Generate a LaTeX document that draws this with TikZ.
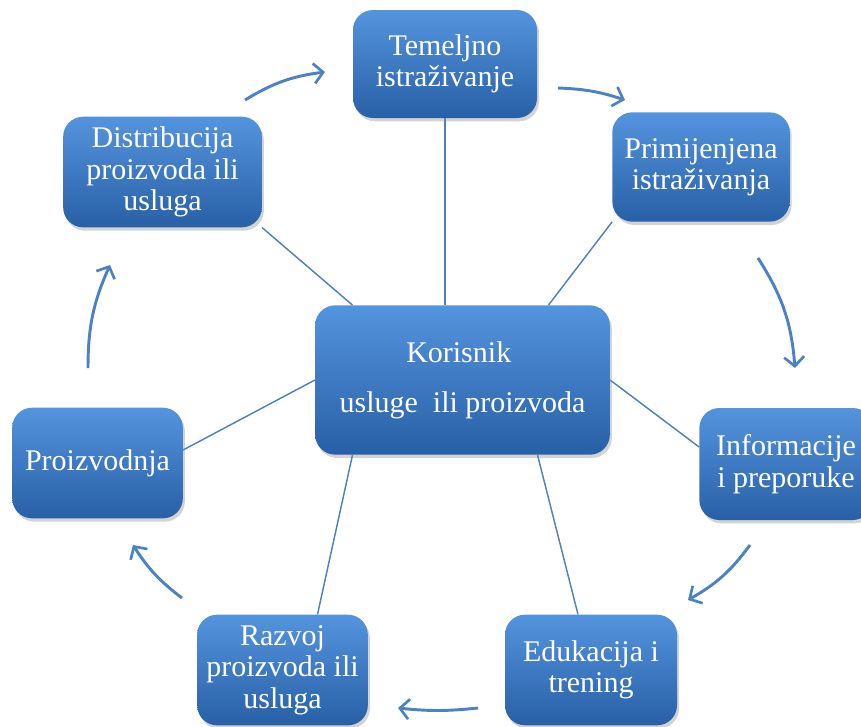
\documentclass[tikz,border=0pt]{standalone}
\usepackage{fontspec}
\setmainfont{Liberation Serif}
\usetikzlibrary{shadows,backgrounds,calc,arrows.meta}

\tikzset{
  stage/.style={draw=none,rounded corners=15pt,
    top color={rgb,255:red,84;green,148;blue,222},
    bottom color={rgb,255:red,40;green,96;blue,166},
    drop shadow={shadow xshift=1.5pt,shadow yshift=-2.5pt,opacity=0.35},
    text=white,align=center,inner sep=2pt,
    font=\fontsize{22.5}{23.5}\selectfont},
  spoke/.style={draw={rgb,255:red,79;green,129;blue,189},line width=1.1pt},
  ring/.style={draw={rgb,255:red,74;green,130;blue,196},line width=2.2pt,
    -{Straight Barb[length=7pt,width=15pt,line width=2pt]}}
}

\begin{document}
\begin{tikzpicture}[x=0.75pt,y=0.75pt,yscale=-1,xscale=1]
\clip (0,0) rectangle (861,726);
\useasboundingbox (0,0) rectangle (861,726);

% Boxes
\node [stage,minimum width=221pt,minimum height=112pt] (hub) at (462.5,380) {Korisnik~~\\[14pt]usluge~~ili proizvoda};
\node [stage,minimum width=138pt,minimum height=81pt] (tem) at (445,64) {Temeljno\\istraživanje};
\node [stage,minimum width=133pt,minimum height=82pt] (pri) at (701,167) {Primijenjena\\istraživanja};
\node [stage,minimum width=130pt,minimum height=84pt] (inf) at (786,464) {Informacije\\i preporuke};
\node [stage,minimum width=129pt,minimum height=83pt] (edu) at (591,670) {Edukacija i\\trening};
\node [stage,minimum width=128pt,minimum height=83pt] (raz) at (282.5,670) {Razvoj\\proizvoda ili\\usluga};
\node [stage,minimum width=128pt,minimum height=83pt] (pro) at (97.5,463) {Proizvodnja};
\node [stage,minimum width=149pt,minimum height=83pt] (dis) at (162.5,172) {Distribucija\\proizvoda ili\\usluga};

% Spokes
\begin{scope}[on background layer]
\draw [spoke] (tem.south) -- (tem.south |- hub.north);
\draw [spoke] ($(hub.north)+(86,0)$) -- (pri.south west);
\draw [spoke] (hub.east) -- ($(inf.west)+(0,-17)$);
\draw [spoke] ($(hub.south)+(75,0)$) -- ($(edu.north)+(-13,0)$);
\draw [spoke] ($(hub.south)+(-110,0)$) -- ($(raz.north)+(35,0)$);
\draw [spoke] (hub.west) -- ($(pro.east)+(0,-13)$);
\draw [spoke] ($(hub.north)+(-110,0)$) -- (dis.south east);
\end{scope}

% Cycle arrows
\coordinate (d1) at (245,100);  \coordinate (d2) at (325,72);
\coordinate (t1) at (558,88);   \coordinate (t2) at (625,100);
\coordinate (p1) at (758,258);  \coordinate (p2) at (795,368);
\coordinate (i1) at (750,545);  \coordinate (i2) at (688,600);
\coordinate (e1) at (478,708);  \coordinate (e2) at (398,708);
\coordinate (r1) at (182,598);  \coordinate (r2) at (133,545);
\coordinate (o1) at (88,368);   \coordinate (o2) at (110,265);

\draw [ring] (d1) to[bend right=12] (d2);
\draw [ring] (t1) to[bend right=8] (t2);
\draw [ring] (p1) to[bend right=14] (p2);
\draw [ring] (i1) to[bend right=12] (i2);
\draw [ring] (e1) to[bend right=6] (e2);
\draw [ring] (r1) to[bend right=10] (r2);
\draw [ring] (o1) to[bend right=12] (o2);

\end{tikzpicture}
\end{document}
